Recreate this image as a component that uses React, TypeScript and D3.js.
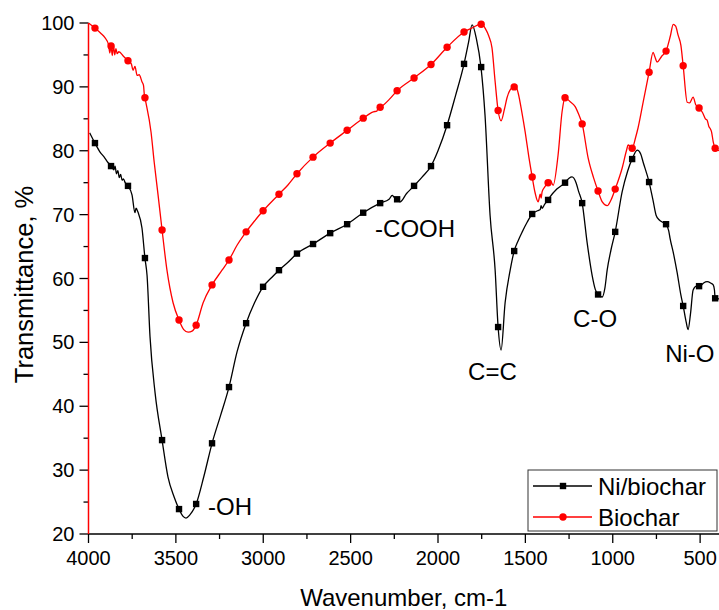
import React from "react";
import * as d3 from "d3";

// wavenumbers (cm-1) where Origin put a symbol on each curve
const markerWavenumbers = [
  3963, 3871, 3774, 3677, 3579, 3482, 3384, 3293, 3196, 3098, 3001, 2910, 2807,
  2715, 2617, 2520, 2428, 2331, 2234, 2137, 2040, 1948, 1851, 1753, 1656, 1564,
  1461, 1370, 1273, 1175, 1084, 986, 889, 792, 695, 597, 506, 414,
];
const niMarkerValues = [
  81.2, 77.6, 74.5, 63.2, 34.7, 23.9, 24.7, 34.2, 43.0, 53.0, 58.7, 61.3, 63.9,
  65.4, 67.1, 68.5, 70.3, 71.8, 72.4, 74.5, 77.6, 84.0, 93.6, 93.1, 52.4, 64.3,
  70.1, 72.3, 75.0, 71.8, 57.5, 67.3, 78.7, 75.1, 68.5, 55.7, 58.8, 56.9,
];
const biocharMarkerValues = [
  99.2, 96.4, 94.1, 88.3, 67.6, 53.5, 52.7, 59.0, 62.9, 67.3, 70.6, 73.2, 76.4,
  79.0, 81.2, 83.2, 85.1, 86.8, 89.4, 91.4, 93.5, 96.2, 98.6, 99.8, 86.3, 90.0,
  75.9, 75.0, 88.3, 84.2, 73.7, 74.0, 80.4, 92.3, 95.6, 93.3, 86.7, 80.4,
];

// full spectra [wavenumber, transmittance %]
const niBiochar: [number, number][] = [
  [3993, 82.8], [3963, 81.2], [3934, 79.8], [3910, 79.0], [3890, 78.2], [3867, 77.6],
  [3855, 77.0], [3848, 77.6], [3840, 76.4], [3832, 76.9], [3824, 75.8], [3816, 76.3],
  [3808, 75.4], [3800, 75.6], [3790, 75.0], [3774, 74.5], [3751, 73.1], [3734, 70.3],
  [3728, 71.0], [3717, 70.4], [3694, 67.9], [3677, 63.2], [3665, 60.5], [3648, 50.9],
  [3619, 42.1], [3579, 34.7], [3545, 28.9], [3510, 25.8], [3482, 23.9], [3460, 22.8],
  [3442, 22.5], [3420, 23.0], [3384, 24.7], [3340, 29.0], [3293, 34.2], [3245, 38.5],
  [3196, 43.0], [3150, 48.5], [3098, 53.0], [3050, 56.2], [3001, 58.7], [2950, 60.2],
  [2910, 61.3], [2860, 62.5], [2807, 63.9], [2715, 65.4], [2617, 67.1], [2520, 68.5],
  [2428, 70.3], [2331, 71.8], [2280, 72.4], [2262, 73.0], [2250, 72.7], [2234, 72.4],
  [2217, 72.0], [2180, 73.3], [2137, 74.5], [2090, 75.9], [2040, 77.6], [2000, 80.0],
  [1948, 84.0], [1900, 88.6], [1851, 93.6], [1825, 97.0], [1805, 99.7], [1780, 97.5],
  [1754, 93.1], [1731, 85.6], [1702, 69.9], [1673, 61.3], [1656, 52.4], [1639, 48.8],
  [1616, 56.2], [1587, 61.3], [1564, 64.3], [1540, 66.0], [1518, 67.3], [1490, 68.8],
  [1461, 70.1], [1430, 70.6], [1415, 70.8], [1410, 71.4], [1404, 71.0], [1390, 71.6],
  [1370, 72.3], [1358, 72.8], [1320, 74.0], [1273, 75.0], [1250, 75.7], [1233, 75.9],
  [1210, 75.0], [1195, 73.6], [1175, 71.8], [1147, 65.7], [1118, 60.5], [1100, 58.3],
  [1084, 57.5], [1061, 57.1], [1045, 58.5], [1032, 61.3], [1010, 64.5], [986, 67.3],
  [946, 73.6], [915, 76.8], [889, 78.7], [860, 80.1], [840, 79.5], [826, 78.2],
  [792, 75.1], [770, 72.3], [752, 69.9], [735, 69.2], [715, 68.8], [695, 68.5],
  [680, 67.5], [672, 66.3], [650, 63.6], [632, 61.0], [610, 57.4], [597, 55.7],
  [580, 53.2], [569, 52.0], [555, 54.5], [540, 58.2], [520, 58.8], [500, 58.8],
  [480, 59.3], [460, 59.5], [440, 59.3], [425, 59.0], [418, 58.2], [414, 56.9],
  [392, 56.8],
];

const biochar: [number, number][] = [
  [4000, 100], [3963, 99.2], [3930, 98.4], [3906, 97.7], [3885, 96.6], [3878, 95.3],
  [3871, 96.4], [3864, 94.9], [3857, 96.5], [3850, 95.0], [3843, 96.0], [3836, 95.2],
  [3826, 95.5], [3800, 94.8], [3774, 94.1], [3755, 93.6], [3745, 92.6], [3734, 93.2],
  [3722, 91.8], [3710, 91.9], [3694, 90.8], [3685, 90.2], [3681, 88.9], [3677, 88.3],
  [3642, 82.9], [3624, 78.2], [3602, 73.1], [3579, 67.6], [3551, 61.3], [3516, 56.2],
  [3482, 53.5], [3455, 52.0], [3430, 51.6], [3405, 51.8], [3384, 52.7], [3344, 56.2],
  [3293, 59.0], [3236, 61.3], [3196, 62.9], [3150, 65.2], [3098, 67.3], [3050, 69.0],
  [3001, 70.6], [2910, 73.2], [2860, 74.6], [2807, 76.4], [2715, 79.0], [2617, 81.2],
  [2520, 83.2], [2428, 85.1], [2370, 86.1], [2350, 86.2], [2343, 86.7], [2331, 86.8],
  [2280, 88.0], [2234, 89.4], [2137, 91.4], [2040, 93.5], [1948, 96.2], [1851, 98.6],
  [1800, 99.3], [1760, 99.8], [1745, 99.8], [1731, 99.2], [1710, 98.0], [1691, 96.1],
  [1673, 90.8], [1656, 86.3], [1639, 84.7], [1620, 86.5], [1605, 88.3], [1580, 89.8],
  [1564, 90.0], [1550, 89.8], [1541, 89.0], [1520, 86.0], [1501, 82.9], [1480, 79.0],
  [1461, 75.9], [1445, 73.5], [1427, 72.0], [1415, 73.2], [1410, 72.6], [1404, 73.6],
  [1390, 74.3], [1370, 75.0], [1358, 75.4], [1341, 74.6], [1313, 79.3], [1290, 86.1],
  [1273, 88.3], [1245, 87.7], [1215, 86.9], [1195, 85.7], [1175, 84.2], [1141, 78.9],
  [1110, 75.8], [1084, 73.7], [1060, 72.0], [1032, 71.4], [1010, 72.3], [986, 74.0],
  [946, 77.3], [920, 80.2], [912, 80.9], [900, 80.7], [889, 80.4], [870, 82.0],
  [855, 83.6], [826, 87.6], [792, 92.3], [769, 95.4], [760, 94.8], [746, 93.9],
  [720, 94.8], [695, 95.6], [670, 98.0], [654, 99.8], [640, 99.5], [626, 98.1],
  [610, 96.5], [597, 93.3], [574, 87.6], [560, 87.5], [540, 88.4], [525, 87.2],
  [505, 86.7], [485, 85.9], [470, 85.0], [460, 84.8], [450, 83.8], [443, 83.5],
  [435, 83.0], [425, 81.4], [414, 80.4], [392, 80.0],
];

const xMajorTicks = [4000, 3500, 3000, 2500, 2000, 1500, 1000, 500];
const xMinorTicks = [3750, 3250, 2750, 2250, 1750, 1250, 750];
const yMajorTicks = [20, 30, 40, 50, 60, 70, 80, 90, 100];
const yMinorTicks = [25, 35, 45, 55, 65, 75, 85, 95];

// band assignments: label text at [wavenumber, transmittance]
const bandLabels = ["-OH", "-COOH", "C=C", "C-O", "Ni-O"];
const bandWavenumbers = [3316, 2360, 1828, 1227, 700];
const bandTransmittance = [23.0, 66.5, 44.1, 52.4, 46.9];

const seriesNames = ["Ni/biochar", "Biochar"];
const seriesColors = ["#000000", "#ff0000"];

const W = 719;
const H = 610;
const FONT = "Arial, 'Liberation Sans', sans-serif";

export default function App() {
  const x = d3.scaleLinear().domain([4000, 400]).range([88.5, 717.6]);
  const y = d3.scaleLinear().domain([20, 100]).range([534, 23]);

  const path = d3
    .line<[number, number]>()
    .x((d) => x(d[0]))
    .y((d) => y(d[1]))
    .curve(d3.curveMonotoneX);

  const x0 = x.range()[0];
  const [yb, yt] = y.range();

  const legendX = 528;
  const legendY = 470;

  return (
    <svg
      width={W}
      height={H}
      style={{ position: "absolute", left: 0, top: 0, background: "#fff" }}
      fontFamily={FONT}
    >
      {/* curves */}
      <path d={path(niBiochar) || ""} fill="none" stroke={seriesColors[0]} strokeWidth={1.3} />
      {markerWavenumbers.map((wn, i) => (
        <rect
          key={"n" + i}
          x={x(wn) - 3.2}
          y={y(niMarkerValues[i]) - 3.2}
          width={6.4}
          height={6.4}
          fill={seriesColors[0]}
        />
      ))}
      <path d={path(biochar) || ""} fill="none" stroke={seriesColors[1]} strokeWidth={1.3} />
      {markerWavenumbers.map((wn, i) => (
        <circle
          key={"b" + i}
          cx={x(wn)}
          cy={y(biocharMarkerValues[i])}
          r={3.7}
          fill={seriesColors[1]}
        />
      ))}

      {/* x axis */}
      <line x1={x0} x2={W} y1={yb} y2={yb} stroke="#000" strokeWidth={1.5} />
      {xMajorTicks.map((t) => (
        <g key={"xm" + t}>
          <line x1={x(t)} x2={x(t)} y1={yb} y2={yb + 9} stroke="#000" strokeWidth={1.3} />
          <text x={x(t)} y={yb + 31} fontSize={20} textAnchor="middle">
            {t}
          </text>
        </g>
      ))}
      {xMinorTicks.map((t) => (
        <line key={"xn" + t} x1={x(t)} x2={x(t)} y1={yb} y2={yb + 5} stroke="#000" strokeWidth={1.3} />
      ))}

      {/* y axis */}
      {yMajorTicks.map((t) => (
        <g key={"ym" + t}>
          <line x1={x0 - 9} x2={x0} y1={y(t)} y2={y(t)} stroke="#000" strokeWidth={1.3} />
          <text x={x0 - 14} y={y(t) + 7} fontSize={20} textAnchor="end">
            {t}
          </text>
        </g>
      ))}
      {yMinorTicks.map((t) => (
        <line key={"yn" + t} x1={x0 - 5} x2={x0} y1={y(t)} y2={y(t)} stroke="#000" strokeWidth={1.3} />
      ))}
      <line x1={x0} x2={x0} y1={yt} y2={yb} stroke={seriesColors[1]} strokeWidth={1.5} />

      {/* axis titles */}
      <text x={(x0 + W) / 2} y={606} fontSize={24} textAnchor="middle">
        Wavenumber, cm-1
      </text>
      <text
        transform={`translate(33, ${(yt + yb) / 2 + 6}) rotate(-90)`}
        fontSize={25.5}
        textAnchor="middle"
      >
        Transmittance, %
      </text>

      {/* band labels */}
      {bandLabels.map((lab, i) => (
        <text key={lab} x={x(bandWavenumbers[i])} y={y(bandTransmittance[i])} fontSize={24}>
          {lab}
        </text>
      ))}

      {/* legend */}
      <rect x={legendX} y={legendY} width={189} height={61} fill="#fff" stroke="#333" strokeWidth={1} />
      {seriesNames.map((name, i) => {
        const cy = legendY + 16 + i * 31;
        return (
          <g key={name}>
            <line x1={legendX + 5} x2={legendX + 64} y1={cy} y2={cy} stroke={seriesColors[i]} strokeWidth={1.3} />
            {i === 0 ? (
              <rect x={legendX + 31.8} y={cy - 3.2} width={6.4} height={6.4} fill={seriesColors[0]} />
            ) : (
              <circle cx={legendX + 35} cy={cy} r={3.7} fill={seriesColors[1]} />
            )}
            <text x={legendX + 70} y={cy + 8.5} fontSize={24}>
              {name}
            </text>
          </g>
        );
      })}
    </svg>
  );
}
